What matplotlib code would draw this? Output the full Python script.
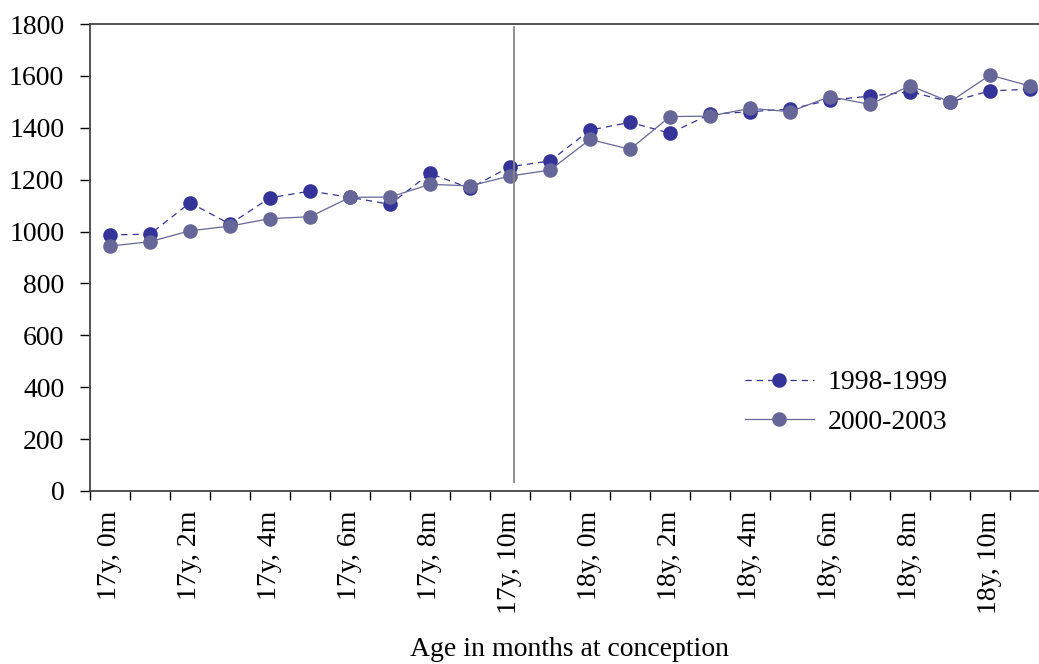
import matplotlib
matplotlib.use("Agg")
import matplotlib.pyplot as plt
import numpy as np

plt.rcParams["font.family"] = ["Liberation Serif", "DejaVu Serif"]

years = ["17y"] * 12 + ["18y"] * 12
months = list(range(12)) * 2
labels = [f"{y}, {m}m" for y, m in zip(years, months)]

s1998 = [987, 990, 1111, 1029, 1130, 1156, 1132, 1105, 1224, 1167, 1250, 1272,
         1391, 1421, 1379, 1452, 1462, 1472, 1507, 1522, 1539, 1500, 1542, 1549]
s2000 = [944, 961, 1003, 1021, 1050, 1057, 1132, 1133, 1182, 1176, 1214, 1237,
         1355, 1317, 1443, 1445, 1475, 1462, 1520, 1490, 1562, 1500, 1603, 1561]

cutoff_x = 10.1
FS = 20

fig = plt.figure(figsize=(10.39, 6.64), dpi=100)
# axes runs past the right edge of the figure, as in the source image
ax = fig.add_axes([90 / 1039, 1 - 491 / 664, 960 / 1039, 467 / 664])

x = np.arange(len(labels))
ax.plot(x, s1998, color="#333399", linestyle=(0, (5, 4)), linewidth=0.9,
        marker="o", markersize=10.5, markeredgewidth=0, label="1998-1999")
ax.plot(x, s2000, color="#666699", linestyle="-", linewidth=0.9,
        marker="o", markersize=10.5, markeredgewidth=0, label="2000-2003")
ax.plot([cutoff_x, cutoff_x], [35, 1790], color="#888888", linewidth=1.3)

ax.set_xlim(-0.5, len(labels) - 0.5)
ax.set_ylim(0, 1800)
ax.set_yticks(np.arange(0, 1801, 200))
ax.tick_params(axis="y", direction="out", length=7.5, width=1, labelsize=FS, pad=11)

ax.set_xticks(x[::2])
ax.set_xticklabels(labels[::2], rotation=90, fontsize=FS)
ax.set_xticks(np.arange(-0.5, len(labels), 1), minor=True)
ax.tick_params(axis="x", which="major", length=0, pad=14)
ax.tick_params(axis="x", which="minor", direction="out", length=6.5, width=1)

for side in ["left", "bottom", "top"]:
    ax.spines[side].set_color("#444444")
    ax.spines[side].set_linewidth(1.3)
ax.spines["right"].set_visible(False)

ax.set_xlabel("Age in months at conception", fontsize=FS)
ax.xaxis.set_label_coords(0.5, -0.312)

ax.legend(loc="center left", bbox_to_anchor=(0.682, 0.19), frameon=False,
          fontsize=FS, handlelength=2.5, handletextpad=0.5, labelspacing=0.5,
          borderpad=0, borderaxespad=0)

fig.savefig("out.png", dpi=100)
